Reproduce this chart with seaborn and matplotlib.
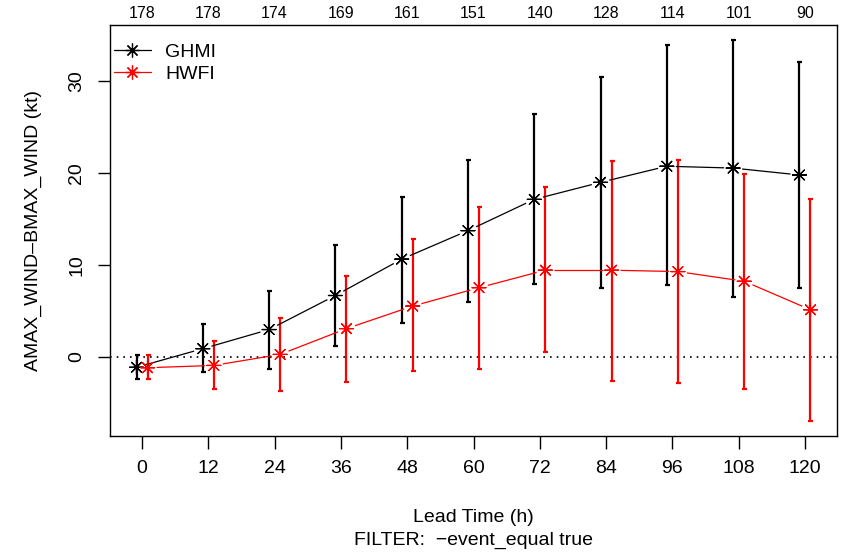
import numpy as np
import pandas as pd
import matplotlib
matplotlib.use("Agg")
import matplotlib.pyplot as plt
from matplotlib.lines import Line2D
import seaborn as sns

# Lead times (h) and number of cases at each lead time
lead = [0, 12, 24, 36, 48, 60, 72, 84, 96, 108, 120]
counts = [178, 178, 174, 169, 161, 151, 140, 128, 114, 101, 90]

# Mean intensity error (kt) with confidence-interval bounds
ghmi_mean = [-1.15, 0.87, 2.95, 6.65, 10.6, 13.7, 17.1, 18.95, 20.7, 20.5, 19.75]
ghmi_lo = [-2.45, -1.7, -1.3, 1.15, 3.7, 5.9, 7.9, 7.5, 7.75, 6.5, 7.5]
ghmi_hi = [0.15, 3.5, 7.15, 12.15, 17.4, 21.4, 26.4, 30.4, 33.85, 34.4, 32.0]

hwfi_mean = [-1.2, -0.95, 0.25, 3.05, 5.5, 7.5, 9.4, 9.4, 9.25, 8.2, 5.1]
hwfi_lo = [-2.45, -3.5, -3.75, -2.75, -1.6, -1.3, 0.55, -2.6, -2.9, -3.5, -7.0]
hwfi_hi = [0.15, 1.75, 4.2, 8.8, 12.75, 16.3, 18.4, 21.3, 21.4, 19.9, 17.1]

models = ["GHMI", "HWFI"]
colors = {"GHMI": "#000000", "HWFI": "#FF0000"}
offsets = {"GHMI": -1.0, "HWFI": 1.0}

frames = []
for name, m, lo, hi in [("GHMI", ghmi_mean, ghmi_lo, ghmi_hi),
                        ("HWFI", hwfi_mean, hwfi_lo, hwfi_hi)]:
    frames.append(pd.DataFrame({"lead": lead, "model": name, "mean": m,
                                "lo": lo, "hi": hi}))
df = pd.concat(frames, ignore_index=True)
df["x"] = df["lead"] + df["model"].map(offsets)

sns.set_theme(style="ticks")
plt.rcParams["font.family"] = ["Liberation Sans", "DejaVu Sans"]
plt.rcParams["text.color"] = "black"
plt.rcParams["axes.labelcolor"] = "black"
plt.rcParams["xtick.color"] = "black"
plt.rcParams["ytick.color"] = "black"
FS = 14
STAR = (8, 2, 0)

fig = plt.figure(figsize=(8.44, 5.55), dpi=100)
ax = fig.add_axes([110 / 844, 1 - 436 / 555, (837 - 110) / 844, (436 - 25) / 555])
ax.set_xlim(-5.8, 125.8)
ax.set_ylim(-8.62, 36.05)

# zero reference line
ax.axhline(0, color="black", lw=1.2, ls=(0, (1, 3)), zorder=1)

# confidence-interval bars
for name in models:
    d = df[df["model"] == name]
    ax.errorbar(d["x"], d["mean"],
                yerr=[d["mean"] - d["lo"], d["hi"] - d["mean"]],
                fmt="none", ecolor=colors[name], elinewidth=1.6,
                capsize=1.8, capthick=1.6, zorder=2)

# connecting lines that stop short of each point
fig.canvas.draw()
trans = ax.transData
inv = trans.inverted()
gap = 9.0
for name in models:
    d = df[df["model"] == name]
    pts = trans.transform(np.column_stack([d["x"], d["mean"]]))
    for p0, p1 in zip(pts[:-1], pts[1:]):
        v = p1 - p0
        L = np.hypot(*v)
        if L <= 2 * gap:
            continue
        u = v / L
        a = inv.transform(p0 + u * gap)
        b = inv.transform(p1 - u * gap)
        ax.plot([a[0], b[0]], [a[1], b[1]], color=colors[name], lw=0.9,
                solid_capstyle="butt", zorder=3)

# asterisk markers
sns.scatterplot(data=df, x="x", y="mean", hue="model", palette=colors,
                marker=STAR, s=100, linewidth=0.9, legend=False,
                ax=ax, zorder=4)

# axes styling
for sp in ax.spines.values():
    sp.set_visible(True)
    sp.set_color("black")
    sp.set_linewidth(1.0)
ax.set_xticks(lead)
ax.set_xticklabels([str(v) for v in lead], fontsize=FS)
ax.set_yticks([0, 10, 20, 30])
ax.set_yticklabels(["0", "10", "20", "30"], fontsize=FS, rotation=90, va="center")
ax.tick_params(axis="both", direction="out", length=9, width=1, color="black")
ax.tick_params(axis="x", pad=8)
ax.tick_params(axis="y", pad=9)
ax.set_xlabel("")
ax.set_ylabel("AMAX_WIND\u2013BMAX_WIND (kt)", fontsize=FS, labelpad=19)
ax.grid(False)

# case counts along the top
xaxis_tr = ax.get_xaxis_transform()
for lt, n in zip(lead, counts):
    ax.text(lt, 1.0 + 4 / 411, str(n), transform=xaxis_tr,
            ha="center", va="bottom", fontsize=11.5, clip_on=False)

# axis titles
xc = (110 + 837) / 2 / 844
fig.text(xc, 1 - 518 / 555, "Lead Time (h)", ha="center", va="center", fontsize=FS)
fig.text(xc, 1 - 540 / 555, "FILTER:  \u2212event_equal true", ha="center",
         va="center", fontsize=FS)

# legend
handles = [Line2D([0], [0], color=colors[m], lw=0.9, marker=STAR,
                  markersize=10, markeredgewidth=0.9) for m in models]
ax.legend(handles, models, loc="upper left", bbox_to_anchor=(0.005, 0.955),
          frameon=False, fontsize=FS, handlelength=1.9, handletextpad=0.75,
          labelspacing=0.2, borderpad=0, borderaxespad=0)

fig.savefig("out.png", dpi=100)
